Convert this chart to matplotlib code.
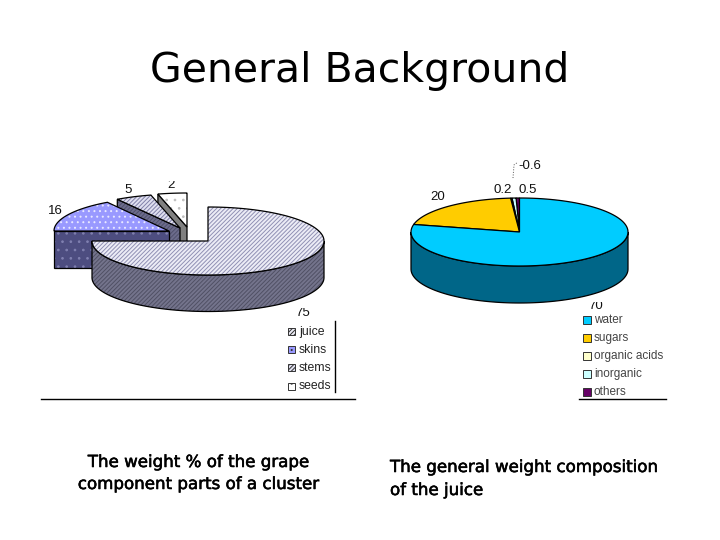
import numpy as np
import matplotlib
matplotlib.use('Agg')
import matplotlib.pyplot as plt
import matplotlib.patheffects as pe
from matplotlib.patches import Polygon, Rectangle

plt.rcParams['hatch.linewidth'] = 0.7

# left pie: slice sizes as drawn, labels as printed on the slide
grape_parts = ['juice', 'skins', 'stems', 'seeds']
grape_sizes = [75, 16, 5, 4]
grape_labels = ['75', '16', '5', '2']

# right pie
juice_parts = ['water', 'sugars', 'organic acids', 'inorganic', 'others']
juice_sizes = [78, 20, 0.2, 0.6, 0.5]
juice_labels = ['70', '20', '0.2', '-0.6', '0.5']

# styles
grape_top = ['#ececf6', '#9999ff', '#e0e0f0', '#ffffff']
grape_side = ['#74748c', '#4d4d80', '#6c6c8c', '#808080']
grape_hatch = ['////////', '...', '////////', '..']
grape_hatch_col = ['#9090b4', '#e8e8ff', '#8080a8', '#c0c0c0']
grape_side_hatch = ['////////', '..', '////////', None]
grape_side_hatch_col = ['#505064', '#8080b0', '#50506c', '#808080']
grape_centers = [(208, 241), (169, 231), (180, 228), (187, 227)]

juice_top = ['#00ccff', '#ffcc00', '#ffffcc', '#ccffff', '#660066']
juice_side = ['#006688', '#806600', '#808066', '#668080', '#330033']

fig = plt.figure(figsize=(7.2, 5.4), dpi=100)
ax = fig.add_axes([0, 0, 1, 1])
ax.set_xlim(0, 720)
ax.set_ylim(540, 0)
ax.axis('off')


def arc(cx, cy, rx, ry, a0, a1):
    t = np.radians(np.linspace(a0, a1, 120))
    return np.column_stack([cx + rx * np.cos(t), cy - ry * np.sin(t)])


def patch(pts, face, hatch=None, hatch_col=None):
    ax.add_patch(Polygon(pts, closed=True, facecolor=face,
                         edgecolor=hatch_col if hatch else 'none', hatch=hatch, lw=0))
    ax.add_patch(Polygon(pts, closed=True, fill=False, edgecolor='black', lw=0.9))


def wedge(center, rx, ry, depth, a0, a1, top, side, hatch=None, hatch_col=None,
          side_hatch=None, side_col=None, cut_face=False):
    cx, cy = center
    # front rim, only the part of the arc facing the viewer
    lo, hi = max(a1, -180), min(a0, 0)
    if hi > lo:
        rim = arc(cx, cy, rx, ry, hi, lo)
        low = rim[::-1] + [0, depth]
        patch(np.vstack([rim, low]), side, side_hatch, side_col)
    if cut_face:
        edge = arc(cx, cy, rx, ry, a0, a0)[0]
        patch([edge, (cx, cy), (cx, cy + depth), edge + [0, depth]], side, side_hatch, side_col)
    pts = np.vstack([[(cx, cy)], arc(cx, cy, rx, ry, a0, a1)])
    patch(pts, top, hatch, hatch_col)


def clipped_text(x, y, s, clip_top):
    t = ax.text(x, y, s, fontsize=9.5, family='Liberation Sans', ha='center', va='center', color='#111111')
    t.set_clip_path(Rectangle((0, clip_top), 720, 540, transform=ax.transData))
    t.set_clip_on(True)


def caption(x, y, s, ha):
    t = ax.text(x, y, s, fontsize=12, family='DejaVu Sans', ha=ha, va='center', color='black')
    t.set_path_effects([pe.withStroke(linewidth=0.4, foreground='black')])


# left pie, back slices first so the juice ends up in front
g_angles = 90 - np.cumsum([0] + grape_sizes) / sum(grape_sizes) * 360
g_rx = [116, 115, 117, 117]
for i in [3, 2, 1, 0]:
    wedge(grape_centers[i], g_rx[i], 34, 36.5, g_angles[i], g_angles[i + 1],
          grape_top[i], grape_side[i], grape_hatch[i], grape_hatch_col[i],
          grape_side_hatch[i], grape_side_hatch_col[i], cut_face=i > 0)

# right pie
j_angles = 90 - np.cumsum([0] + juice_sizes) / sum(juice_sizes) * 360
for i in range(len(juice_sizes) - 1, -1, -1):
    wedge((519.5, 232), 108.5, 34, 37, j_angles[i], j_angles[i + 1], juice_top[i], juice_side[i])

# data labels
for (x, y), s, c in zip([(303, 313), (55, 211), (128, 190), (171, 185)], grape_labels, [308, 0, 0, 181]):
    clipped_text(x, y, s, c)
for (x, y), s, c in zip([(596, 306), (438, 197), (503, 190), (530, 166), (528, 190)], juice_labels, [302, 0, 0, 0, 0]):
    clipped_text(x, y, s, c)
ax.plot([513, 514, 518], [178, 165, 162], color='#555555', lw=0.7, ls=':')

# legends
for i, name in enumerate(grape_parts):
    y = 331.5 + i * 18.2
    ax.add_patch(Rectangle((288, y - 3.5), 7, 7, facecolor=grape_top[i], edgecolor='#333333', lw=0.7,
                           hatch=grape_hatch[i]))
    ax.text(299, y, name, fontsize=8.8, family='Liberation Sans', va='center', color='#222222')
for i, name in enumerate(juice_parts):
    y = 320 + i * 18
    ax.add_patch(Rectangle((583, y - 4), 8, 8, facecolor=juice_top[i], edgecolor='#333333', lw=0.7))
    ax.text(594, y, name, fontsize=8.5, family='Liberation Sans', va='center', color='#444444')

ax.plot([335, 335], [321, 392], color='black', lw=1)
ax.plot([41, 355], [399, 399], color='black', lw=1)
ax.plot([579, 666], [399, 399], color='black', lw=1)

# slide text
ax.text(360, 71, 'General Background', fontsize=29.5, family='DejaVu Sans', ha='center', va='center', color='black')
caption(198, 462, 'The weight % of the grape', 'center')
caption(198, 484, 'component parts of a cluster', 'center')
caption(390, 467, 'The general weight composition', 'left')
caption(390, 490, 'of the juice', 'left')

fig.savefig('out.png', dpi=100)
